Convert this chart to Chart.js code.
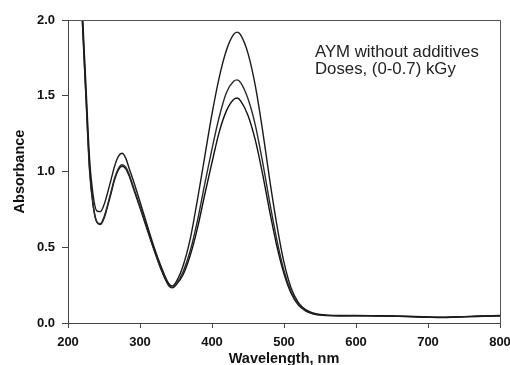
<!DOCTYPE html>
<html>
<head>
<meta charset="utf-8">
<script src="https://cdn.jsdelivr.net/npm/chart.js@4.4.1/dist/chart.umd.min.js"></script>
<style>
html,body{margin:0;padding:0;background:#fff;}
#wrap{width:510px;height:365px;}
</style>
</head>
<body>
<div id="wrap"><canvas id="c" width="510" height="365"></canvas></div>
<script>
const wavelengths = [215,220,225,230,235,240,245,250,255,260,265,270,275,280,285,290,300,310,320,330,340,345,350,360,370,380,390,400,410,420,430,435,440,450,460,470,480,490,500,510,520,530,540,550,560,580,600,620,640,660,680,700,720,740,760,780,800];
const seriesA = [2.6,2.05,1.56,1.08,0.84,0.74,0.735,0.78,0.86,0.95,1.04,1.10,1.12,1.09,1.02,0.95,0.80,0.645,0.495,0.365,0.26,0.245,0.27,0.38,0.56,0.82,1.10,1.38,1.62,1.80,1.905,1.92,1.90,1.78,1.57,1.28,0.95,0.65,0.40,0.23,0.135,0.088,0.066,0.056,0.052,0.05,0.05,0.049,0.047,0.045,0.043,0.04,0.037,0.04,0.044,0.047,0.05];
const seriesB = [2.6,2.0,1.50,1.02,0.78,0.67,0.655,0.70,0.78,0.87,0.96,1.02,1.045,1.03,0.98,0.91,0.77,0.625,0.48,0.35,0.25,0.236,0.255,0.34,0.48,0.68,0.92,1.15,1.36,1.52,1.595,1.605,1.585,1.48,1.31,1.07,0.80,0.55,0.345,0.205,0.123,0.082,0.063,0.054,0.05,0.048,0.049,0.048,0.046,0.045,0.042,0.039,0.038,0.041,0.043,0.046,0.048];
const seriesC = [2.6,1.98,1.48,1.0,0.77,0.665,0.65,0.69,0.77,0.86,0.95,1.01,1.035,1.02,0.97,0.90,0.76,0.615,0.475,0.345,0.245,0.232,0.25,0.32,0.45,0.63,0.85,1.06,1.26,1.40,1.475,1.485,1.465,1.37,1.21,0.99,0.74,0.51,0.325,0.195,0.118,0.08,0.061,0.052,0.049,0.047,0.048,0.047,0.046,0.044,0.041,0.038,0.036,0.039,0.042,0.045,0.047];
const xTicks = [200,300,400,500,600,700,800];
const yTicks = [0,0.5,1.0,1.5,2.0];
const annotationLines = ["AYM without additives","Doses, (0-0.7) kGy"];
const xTitle = "Wavelength, nm";
const yTitle = "Absorbance";

function pts(ys){ return wavelengths.map((w,i)=>({x:w,y:ys[i]})); }

const framePlugin = {
  id:'frame',
  afterDraw(chart){
    const {ctx, chartArea:a} = chart;
    ctx.save();
    ctx.strokeStyle = '#555';
    ctx.lineWidth = 1;
    ctx.beginPath();
    ctx.moveTo(Math.round(a.left)+0.5, Math.round(a.top)+0.5);
    ctx.lineTo(Math.round(a.right)+0.5, Math.round(a.top)+0.5);
    ctx.lineTo(Math.round(a.right)+0.5, Math.round(a.bottom)+0.5);
    ctx.stroke();
    ctx.fillStyle = '#222';
    ctx.font = '16.8px "Liberation Sans", Arial, sans-serif';
    ctx.textBaseline = 'alphabetic';
    ctx.textAlign = 'left';
    const xs = chart.scales.x.getPixelForValue(543);
    ctx.fillText(annotationLines[0], xs, chart.scales.y.getPixelForValue(1.755));
    ctx.fillText(annotationLines[1], xs, chart.scales.y.getPixelForValue(1.645));
    ctx.restore();
  }
};

const lineDs = (data, color) => ({
  data: pts(data), borderColor: color, borderWidth: 1.4, pointRadius: 0,
  fill: false, cubicInterpolationMode: 'monotone'
});

new Chart(document.getElementById('c'), {
  type: 'line',
  data: { datasets: [lineDs(seriesA,'#1a1a1a'), lineDs(seriesB,'#2a2a2a'), lineDs(seriesC,'#111')] },
  options: {
    responsive: false, devicePixelRatio: 1, animation: false,
    layout: { padding: { top: 20, right: 10, left: 0, bottom: 0 } },
    plugins: { legend: { display: false }, tooltip: { enabled: false } },
    scales: {
      x: {
        type: 'linear', min: 200, max: 800,
        afterBuildTicks: s => { s.ticks = xTicks.map(v=>({value:v})); },
        afterFit: s => { s.height = 42; s.paddingLeft = 0; s.paddingRight = 0; },
        ticks: { color: '#111', padding: 7, maxRotation: 0, font: { family: '"Liberation Sans", Arial, sans-serif', size: 13, weight: 'bold' } },
        grid: { drawOnChartArea: false, drawTicks: true, tickLength: 5, color: '#444' },
        border: { display: true, color: '#444', width: 1 },
        title: { display: true, text: xTitle, color: '#111', padding: { top: 0, bottom: -3 }, font: { family: '"Liberation Sans", Arial, sans-serif', size: 14.5, weight: 'bold' } }
      },
      y: {
        min: 0, max: 2,
        afterBuildTicks: s => { s.ticks = yTicks.map(v=>({value:v})); },
        afterFit: s => { s.width = 68; s.paddingTop = 0; s.paddingBottom = 0; },
        ticks: { color: '#111', padding: 7, callback: v => Number(v).toFixed(1), font: { family: '"Liberation Sans", Arial, sans-serif', size: 13, weight: 'bold' } },
        grid: { drawOnChartArea: false, drawTicks: true, tickLength: 6, color: '#444' },
        border: { display: true, color: '#444', width: 1 },
        title: { display: true, text: yTitle, color: '#111', padding: { top: 11, bottom: 0 }, font: { family: '"Liberation Sans", Arial, sans-serif', size: 14.5, weight: 'bold' } }
      }
    }
  },
  plugins: [framePlugin]
});
</script>
</body>
</html>
